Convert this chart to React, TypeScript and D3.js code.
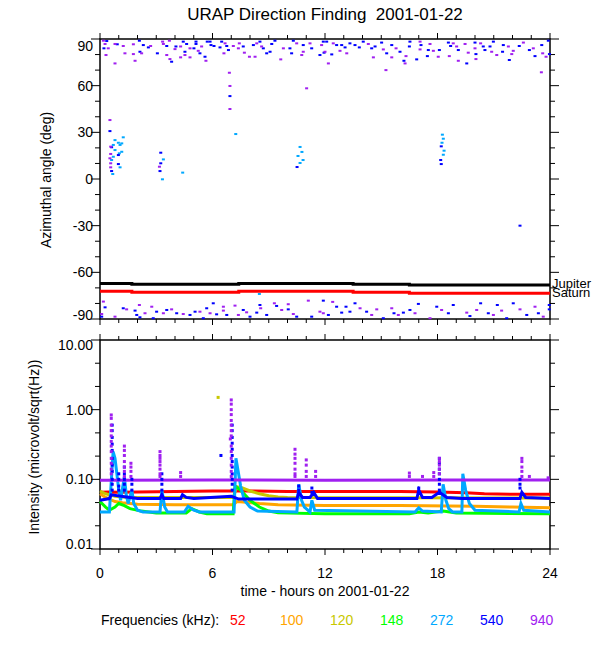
import { useEffect, useRef } from 'react';
import * as d3 from 'd3';

// ---- direction finding (hour, azimuth deg) ----
const dir940: [number, number][] = [
  [0.18, 88.9], [0.27, 86.8], [0.44, 84], [0.32, 79.7], [0.8, 86.8], [1.24, 85.5], [1.33, 80.8], [1.87, 76],
  [0.8, 74.3], [1.78, 86.6], [2.7, 85.5], [1.78, 80.3], [2.22, 80.8], [3.34, 88.3], [3.38, 86.8], [3.7, 88.9],
  [4.0, 83.5], [3.56, 79.7], [3.73, 77.1], [4.8, 84], [4.53, 79.7], [5.24, 82.4], [5.65, 76], [5.42, 85.2],
  [4.8, 78.2], [4.3, 85.2], [4.3, 78.2], [6.67, 87.2], [6.61, 80.8], [7.11, 85.5], [7.43, 87.2], [7.38, 84],
  [7.7, 81.2], [7.97, 78.6], [8.36, 87.2], [8.62, 85.2], [8.27, 78.6], [9.78, 84], [9.64, 76.9], [10.49, 87.2],
  [11.2, 87.2], [10.84, 81.8], [10.76, 79.7], [12, 81.8], [12.18, 74.3], [11.82, 86.1], [12.44, 87.2], [12.8, 82.4],
  [13.16, 80.8], [14.31, 86.8], [14.58, 78.2], [15.11, 83.3], [15.56, 78.2], [15.79, 84], [15.25, 70], [16.27, 74.3],
  [16.32, 79], [17.07, 88.3], [17.07, 83.3], [17.6, 86.8], [17.78, 82.4], [18.04, 78.6], [18.84, 87.2], [19.02, 85.2],
  [18.63, 79], [19.11, 76], [19.47, 86.8], [20.3, 87.2], [20, 84], [19.64, 81.2], [20.05, 77.1], [20.89, 81.8],
  [21.16, 79.7], [21.78, 85.2], [22.04, 82.4], [21.96, 80.3], [22.58, 87.7], [23.11, 84], [23.61, 80.8], [23.79, 78.6],
  [23.54, 68.6],
  [6.9, 68.3], [6.93, 59.8], [6.93, 45], [0.53, 37.9], [11.02, 58.3],
  [0.57, 20.8], [0.57, 16.1], [0.53, 13.3], [0.57, 10.1], [0.57, 7.5], [3.17, 7.9],
  [0.18, -78.8], [0.09, -86.8], [0.8, -88.5], [1.42, -83.8], [2.1, -81], [2.4, -86.3], [2.76, -82.1], [3.38, -86.3],
  [3.82, -83.8], [4.44, -86.8], [5.33, -85.3], [5.87, -86.3], [6.58, -82.1], [6.58, -84.6], [7.2, -81.4], [7.38, -87.4],
  [7.82, -85.7], [8.57, -83.1], [9.3, -79.9], [9.69, -84.2], [10.04, -80.5], [10.31, -86.8], [11.11, -78.2], [11.73, -85.3],
  [11.91, -86.3], [12.41, -79], [13.87, -83.1], [14.49, -87.4], [14.76, -83.8], [15.56, -83.1], [15.91, -87.4], [16.8, -86.3],
  [17.6, -89.5], [18.22, -84.2], [19.56, -85.9], [20.09, -84.2], [20.98, -87.4], [21.42, -84.6], [22.4, -83.8], [23.2, -82.1],
  [23.64, -88.5],
];

const dir540: [number, number][] = [
  [0.36, 88.7], [0.21, 84], [0.92, 86.6], [2.1, 88.9], [2.31, 86.1], [2.58, 84.6], [2.13, 81.8], [3.06, 80.8],
  [3.56, 85.5], [4.05, 85.2], [3.82, 75.4], [4.44, 88.3], [4.62, 86.8], [4.53, 81.8], [5.12, 88.3], [5.12, 86.8],
  [5.01, 84], [5.33, 80.8], [5.6, 78.6], [5.72, 88.3], [5.87, 88.3], [5.92, 86.1], [6.08, 85.5], [6.4, 84.6],
  [6.49, 88.3], [6.76, 85.5], [6.85, 82.9], [7.64, 85.2], [8.18, 86.1], [8.53, 88.3], [8.71, 84], [8.89, 80.8],
  [9.07, 81.8], [9.16, 86.8], [9.33, 88.9], [10.13, 84], [10.22, 80.8], [10.31, 88.9], [10.84, 86.1], [11.29, 84],
  [11.73, 79.7], [11.91, 88.3], [12.09, 88.3], [12.62, 86.1], [12.89, 86.1], [13.07, 84.6], [11.95, 81.2], [12.36, 80.1],
  [13.33, 87.2], [13.6, 86.1], [13.83, 84.6], [14.04, 88.3], [14.49, 84], [14.67, 85.2], [15.02, 87.7], [15.56, 86.1],
  [15.29, 80.8], [16, 81.8], [16.21, 76], [16.53, 88.3], [16.5, 85.2], [16.89, 76.9], [17.12, 86.1], [17.46, 79],
  [17.51, 82.9], [18.1, 82.9], [18.58, 87.7], [18.7, 85.5], [19.11, 82.9], [19.56, 74.3], [20, 87.7], [20.44, 85.2],
  [20.05, 80.3], [20.53, 82.9], [20.8, 85.2], [20.98, 88.3], [21.51, 86.1], [21.47, 81.8], [21.83, 76.5], [22.36, 85.5],
  [22.9, 82.9], [23.56, 86.1], [23.2, 79], [23.91, 88.9], [23.97, 80.3],
  [6.93, 53.3], [0.53, 30.8], [0.62, 20.4], [0.98, 15.4], [0.98, 9.6], [0.62, 5.1],
  [3.24, 16.9], [3.24, 10.1], [3.2, 5.1], [10.51, 7.7], [18.2, 21], [18.17, 12.2], [18.2, 9.6], [22.4, -30],
  [0.27, -82.5], [0.09, -88.5], [1.24, -83.1], [1.87, -84.6], [1.96, -87.4], [2.13, -88.9], [2.84, -89.5], [3.02, -85.3],
  [3.56, -84.2], [4.09, -86.3], [4.8, -87.4], [5.07, -85.3], [5.51, -89.5], [5.69, -83.1], [6.04, -79.9], [6.22, -87],
  [6.76, -87.4], [7.64, -84.2], [8, -88.5], [8.36, -85.9], [8.53, -81], [8.89, -87.4], [9.42, -81.6], [10.04, -83.8],
  [10.49, -88.5], [11.29, -88.5], [11.91, -78.2], [12.18, -87.4], [12.62, -82.1], [12.89, -85.9], [13.12, -82.1], [13.33, -85.3],
  [13.6, -79.9], [14.22, -85.3], [15.11, -89.5], [15.68, -86.3], [16.18, -85.9], [16.53, -84.2], [16.98, -80.3], [17.96, -82.1],
  [18.58, -86.3], [18.84, -81], [19.73, -88.1], [20.3, -79.9], [20.71, -86.3], [21.19, -81], [21.69, -89.5], [22.04, -79.9],
  [22.76, -87.4], [23.38, -86.3], [23.96, -81], [23.96, -83.8],
];

const dir272: [number, number][] = [
  [1.24, 26.8], [0.8, 25], [0.98, 23.3], [1.16, 22.9], [1.07, 21.9], [0.71, 21.9], [0.8, 18.6], [1.16, 17.5],
  [1.03, 16.5], [0.71, 14.3], [0.62, 12.2], [1.07, 7.5], [0.68, 3.2], [3.38, 12.6], [3.33, -0.2], [4.41, 4.1],
  [7.24, 28.9], [10.67, 20.6], [10.77, 17.4], [10.56, 14.8], [10.83, 12.2], [10.67, 10.3],
  [18.26, 28.5], [18.31, 25.9], [18.24, 23.3], [18.35, 18.2], [18.31, 15.6], [8.5, -73.9],
];

const jupiter: [number, number][] = [[0, -67.1], [1.7, -67.7], [7.4, -67.1], [13.5, -67.7], [16.5, -68.1], [24, -68.1]];
const saturn: [number, number][] = [[0, -72.2], [1.7, -72.8], [7.4, -72.2], [13.5, -72.8], [16.5, -73.5], [24, -73.5]];

// ---- intensity (hour, microvolt/sqrt(Hz)) ----
const int52: [number, number][] = [
  [0, 0.065], [0.5, 0.066], [1, 0.065], [2, 0.066], [4, 0.067], [6, 0.068], [8, 0.068], [10, 0.067],
  [12, 0.067], [14, 0.067], [16, 0.067], [18, 0.066], [19.5, 0.064], [20.5, 0.062], [22, 0.061], [24, 0.061],
];
const int100: [number, number][] = [
  [0, 0.062], [0.3, 0.055], [0.8, 0.048], [1.2, 0.046], [2, 0.044], [4, 0.043], [7.1, 0.043], [7.3, 0.048],
  [7.8, 0.047], [8.5, 0.045], [9.5, 0.043], [12, 0.042], [16, 0.042], [20, 0.041], [22, 0.04], [24, 0.039],
];
const int120: [number, number][] = [
  [0, 0.068], [0.3, 0.062], [0.8, 0.057], [1.5, 0.055], [7.1, 0.055], [7.3, 0.078], [7.6, 0.075], [8, 0.068],
  [8.5, 0.062], [9, 0.058], [9.5, 0.056], [10, 0.055], [24, 0.054],
];
const int148: [number, number][] = [
  [0, 0.048], [0.3, 0.04], [0.5, 0.036], [0.8, 0.04], [1.0, 0.045], [1.3, 0.042], [1.6, 0.038], [2.2, 0.035],
  [3, 0.033], [4.6, 0.033], [4.9, 0.038], [5.3, 0.034], [5.7, 0.032], [7.1, 0.032], [7.2, 0.08], [7.5, 0.07],
  [8, 0.05], [8.5, 0.04], [9, 0.035], [9.5, 0.033], [12, 0.032], [16.5, 0.032], [17, 0.034], [17.5, 0.033],
  [18.3, 0.035], [19, 0.033], [24, 0.032],
];
const int272: [number, number][] = [
  [0, 0.034], [0.5, 0.034], [0.7, 0.25], [0.8, 0.2], [0.9, 0.12], [1.0, 0.07], [1.1, 0.05], [1.3, 0.11],
  [1.4, 0.06], [1.5, 0.045], [1.7, 0.07], [1.8, 0.045], [2.0, 0.036], [2.3, 0.034], [3.2, 0.034], [3.3, 0.07],
  [3.45, 0.04], [3.6, 0.034], [4.5, 0.034], [4.7, 0.041], [5.0, 0.036], [5.3, 0.034], [7.15, 0.034], [7.25, 0.2],
  [7.35, 0.14], [7.5, 0.08], [7.7, 0.05], [8, 0.04], [8.4, 0.035], [10.5, 0.034], [10.6, 0.085], [10.75, 0.05],
  [10.9, 0.04], [11.2, 0.034], [11.3, 0.05], [11.45, 0.036], [16.8, 0.034], [17.0, 0.039], [17.2, 0.035], [18.2, 0.034],
  [18.3, 0.085], [18.45, 0.05], [18.6, 0.038], [18.8, 0.034], [19.3, 0.034], [19.35, 0.12], [19.5, 0.07], [19.7, 0.045],
  [20, 0.036], [22.35, 0.034], [22.45, 0.045], [22.6, 0.036], [24, 0.034],
];
const int540: [number, number][] = [
  [0, 0.05], [0.5, 0.053], [0.6, 0.06], [1.6, 0.055], [2, 0.053], [3.2, 0.053], [3.3, 0.06], [3.4, 0.053],
  [4.3, 0.053], [4.4, 0.06], [4.6, 0.055], [5, 0.053], [7, 0.057], [7.4, 0.052], [10.5, 0.052], [10.6, 0.065],
  [10.8, 0.055], [11.2, 0.055], [11.4, 0.065], [11.6, 0.053], [16.9, 0.053], [17, 0.07], [17.2, 0.055], [17.7, 0.055],
  [18.1, 0.065], [18.5, 0.055], [19.3, 0.053], [22.4, 0.053], [22.5, 0.065], [22.7, 0.055], [24, 0.053],
];
const int940: [number, number][] = [[0, 0.097], [6, 0.098], [12, 0.097], [18, 0.098], [24, 0.098]];

const spike540: [number, number][] = [
  [0.65, 0.6], [0.65, 0.5], [0.65, 0.4], [0.65, 0.32], [0.65, 0.26], [0.65, 0.2], [0.65, 0.16], [0.65, 0.13],
  [0.65, 0.1], [0.65, 0.085], [0.65, 0.07], [1.0, 0.12], [1.0, 0.1], [1.0, 0.08], [1.0, 0.07], [1.3, 0.15],
  [1.3, 0.12], [1.3, 0.1], [1.3, 0.085], [1.3, 0.07], [1.7, 0.1], [1.7, 0.085], [1.7, 0.07], [3.3, 0.12],
  [3.3, 0.1], [3.3, 0.085], [3.3, 0.07], [7.05, 0.6], [7.05, 0.5], [7.05, 0.4], [7.05, 0.33], [7.05, 0.27],
  [7.05, 0.22], [7.05, 0.18], [7.05, 0.15], [7.05, 0.12], [7.05, 0.1], [7.05, 0.085], [7.05, 0.07], [6.45, 0.22],
  [10.6, 0.08], [10.6, 0.07], [11.3, 0.075], [11.3, 0.065], [17.0, 0.075], [18.1, 0.2], [18.1, 0.17], [18.1, 0.14],
  [18.1, 0.12], [18.1, 0.1], [18.1, 0.085], [18.1, 0.07], [22.4, 0.1], [22.4, 0.085], [22.4, 0.075],
];
const spike940: [number, number][] = [
  [0.6, 0.84], [0.6, 0.75], [0.6, 0.6], [0.6, 0.5], [0.6, 0.42], [0.6, 0.35], [0.6, 0.3], [0.6, 0.25],
  [0.6, 0.2], [0.6, 0.17], [0.6, 0.14], [0.6, 0.12], [1.3, 0.3], [1.3, 0.26], [1.3, 0.22], [1.3, 0.18],
  [1.3, 0.15], [1.3, 0.13], [1.3, 0.11], [1.65, 0.17], [1.65, 0.15], [1.65, 0.13], [1.65, 0.11], [3.2, 0.25],
  [3.2, 0.22], [3.2, 0.2], [3.2, 0.18], [3.2, 0.16], [3.2, 0.14], [3.2, 0.12], [3.2, 0.11], [4.3, 0.125],
  [4.3, 0.11], [7.0, 1.38], [7.0, 1.2], [7.0, 1.0], [7.0, 0.85], [7.0, 0.7], [7.0, 0.6], [7.0, 0.5],
  [7.0, 0.42], [7.0, 0.3], [7.0, 0.25], [7.0, 0.2], [7.0, 0.16], [7.0, 0.13], [7.0, 0.11], [6.95, 0.38],
  [10.4, 0.27], [10.4, 0.23], [10.4, 0.2], [10.4, 0.17], [10.4, 0.14], [10.4, 0.12], [10.4, 0.11], [11.0, 0.19],
  [11.0, 0.16], [11.0, 0.13], [11.0, 0.11], [11.5, 0.13], [11.5, 0.11], [16.5, 0.123], [16.5, 0.11], [17.2, 0.11],
  [17.8, 0.125], [17.8, 0.11], [18.1, 0.2], [18.1, 0.18], [18.1, 0.16], [18.1, 0.14], [18.1, 0.12], [22.5, 0.2],
  [22.5, 0.18], [22.5, 0.15], [22.5, 0.13], [22.5, 0.11], [22.9, 0.11], [23.9, 0.105],
];
const spike120: [number, number][] = [[6.3, 1.5]];

const freqLabels = ['52', '100', '120', '148', '272', '540', '940'];
const freqColors = ['#ff0000', '#ffa500', '#c8c800', '#00ff00', '#00a8ff', '#0000ff', '#a020f0'];
const hourTicks = [0, 6, 12, 18, 24];
const angleTicks = [-90, -60, -30, 0, 30, 60, 90];
const intensityTicks = [10, 1, 0.1, 0.01];
const intensityLabels = ['10.00', '1.00', '0.10', '0.01'];

export default function App() {
  const svgRef = useRef<SVGSVGElement>(null);

  useEffect(() => {
    if (!svgRef.current) return;
    const svg = d3.select(svgRef.current);
    svg.selectAll('*').remove();

    const font = '"Liberation Sans", Arial, Helvetica, sans-serif';
    const left = 100, right = 550;
    const top1 = 39, bot1 = 319, top2 = 340, bot2 = 549;

    const x = d3.scaleLinear().domain([0, 24]).range([left, right]);
    const yDir = d3.scaleLinear().domain([-90, 90]).range([bot1, top1]);
    const yInt = d3.scaleLog().domain([0.01, 10]).range([bot2, top2]);

    const g = svg.append('g');

    // title (keeps the double space)
    g.append('text').attr('x', 325).attr('y', 20).attr('text-anchor', 'middle')
      .style('white-space', 'pre')
      .attr('font-family', font).attr('font-size', 17).text('URAP Direction Finding  2001-01-22');

    // ---- panel frames and ticks ----
    const frame = (yTop: number, yBot: number) => {
      g.append('rect').attr('x', left).attr('y', yTop).attr('width', right - left).attr('height', yBot - yTop)
        .attr('fill', 'none').attr('stroke', '#000').attr('stroke-width', 1.5);
      d3.range(0, 25).forEach((h) => {
        const len = h % 6 === 0 ? 6 : 4;
        g.append('line').attr('x1', x(h)).attr('x2', x(h)).attr('y1', yTop).attr('y2', yTop - len).attr('stroke', '#000');
        g.append('line').attr('x1', x(h)).attr('x2', x(h)).attr('y1', yBot).attr('y2', yBot + len).attr('stroke', '#000');
      });
    };
    frame(top1, bot1);
    frame(top2, bot2);

    const yTick = (yy: number, major: boolean) => {
      const len = major ? 9 : 5;
      g.append('line').attr('x1', left).attr('x2', left - len).attr('y1', yy).attr('y2', yy).attr('stroke', '#000');
      g.append('line').attr('x1', right).attr('x2', right + len).attr('y1', yy).attr('y2', yy).attr('stroke', '#000');
    };
    d3.range(-90, 91, 10).forEach((d) => yTick(yDir(d), d % 30 === 0));
    d3.range(-6, 4).forEach((k) => yTick(yInt(Math.pow(10, k / 3)), k % 3 === 0));

    angleTicks.forEach((d) => {
      const yy = d === 90 ? yDir(d) + 7 : d === -90 ? yDir(d) - 4 : yDir(d);
      g.append('text').attr('x', 93).attr('y', yy).attr('dy', '0.35em').attr('text-anchor', 'end')
        .attr('font-family', font).attr('font-size', 14).text(String(d));
    });
    intensityTicks.forEach((v, i) => {
      const yy = i === 0 ? yInt(v) + 5 : i === 3 ? yInt(v) - 5 : yInt(v);
      g.append('text').attr('x', 93).attr('y', yy).attr('dy', '0.35em').attr('text-anchor', 'end')
        .attr('font-family', font).attr('font-size', 14).text(intensityLabels[i]);
    });
    hourTicks.forEach((h) => {
      g.append('text').attr('x', x(h)).attr('y', 578).attr('text-anchor', 'middle')
        .attr('font-family', font).attr('font-size', 14).text(String(h));
    });

    // axis titles
    g.append('text').attr('transform', 'translate(51,180) rotate(-90)').attr('text-anchor', 'middle')
      .attr('font-family', font).attr('font-size', 14).text('Azimuthal angle (deg)');
    g.append('text').attr('transform', 'translate(39,447) rotate(-90)').attr('text-anchor', 'middle')
      .attr('font-family', font).attr('font-size', 14).text('Intensity (microvolt/sqrt(Hz))');
    g.append('text').attr('x', 325).attr('y', 596).attr('text-anchor', 'middle')
      .attr('font-family', font).attr('font-size', 14).text('time - hours on 2001-01-22');

    // ---- direction panel ----
    const dots = (data: [number, number][], y: (v: number) => number, color: string) => {
      g.append('g').selectAll('rect').data(data).join('rect')
        .attr('x', (d) => x(d[0]) - 1.5).attr('y', (d) => y(d[1]) - 1)
        .attr('width', 3).attr('height', 2).attr('fill', color);
    };
    dots(dir272, yDir, freqColors[4]);
    dots(dir540, yDir, freqColors[5]);
    dots(dir940, yDir, freqColors[6]);

    const stepLine = d3.line<[number, number]>().x((d) => x(d[0])).y((d) => yDir(d[1])).curve(d3.curveStepAfter);
    g.append('path').attr('d', stepLine(saturn)).attr('fill', 'none').attr('stroke', '#ff0000').attr('stroke-width', 3);
    g.append('path').attr('d', stepLine(jupiter)).attr('fill', 'none').attr('stroke', '#000').attr('stroke-width', 3);
    g.append('text').attr('x', 552).attr('y', 288).attr('font-family', font).attr('font-size', 13).text('Jupiter');
    g.append('text').attr('x', 552).attr('y', 297).attr('font-family', font).attr('font-size', 13).text('Saturn');

    // ---- intensity panel ----
    const line = d3.line<[number, number]>().x((d) => x(d[0])).y((d) => yInt(d[1]));
    const series = [int52, int100, int120, int148, int272, int540, int940];
    series.forEach((s, i) => {
      g.append('path').attr('d', line(s)).attr('fill', 'none').attr('stroke', freqColors[i]).attr('stroke-width', 3);
    });
    const bigDots = (data: [number, number][], color: string) => {
      g.append('g').selectAll('rect').data(data).join('rect')
        .attr('x', (d) => x(d[0]) - 1.5).attr('y', (d) => yInt(d[1]) - 1.5)
        .attr('width', 3).attr('height', 3).attr('fill', color);
    };
    bigDots(spike120, freqColors[2]);
    bigDots(spike540, freqColors[5]);
    bigDots(spike940, freqColors[6]);

    // ---- legend ----
    g.append('text').attr('x', 101).attr('y', 625).attr('font-family', font).attr('font-size', 14)
      .text('Frequencies (kHz):');
    freqLabels.forEach((f, i) => {
      g.append('text').attr('x', 230 + i * 50).attr('y', 625).attr('font-family', font).attr('font-size', 14)
        .attr('fill', freqColors[i]).text(f);
    });
  }, []);

  return (
    <svg ref={svgRef} width={600} height={650}
      style={{ position: 'absolute', left: 0, top: 0, background: '#fff' }} />
  );
}
